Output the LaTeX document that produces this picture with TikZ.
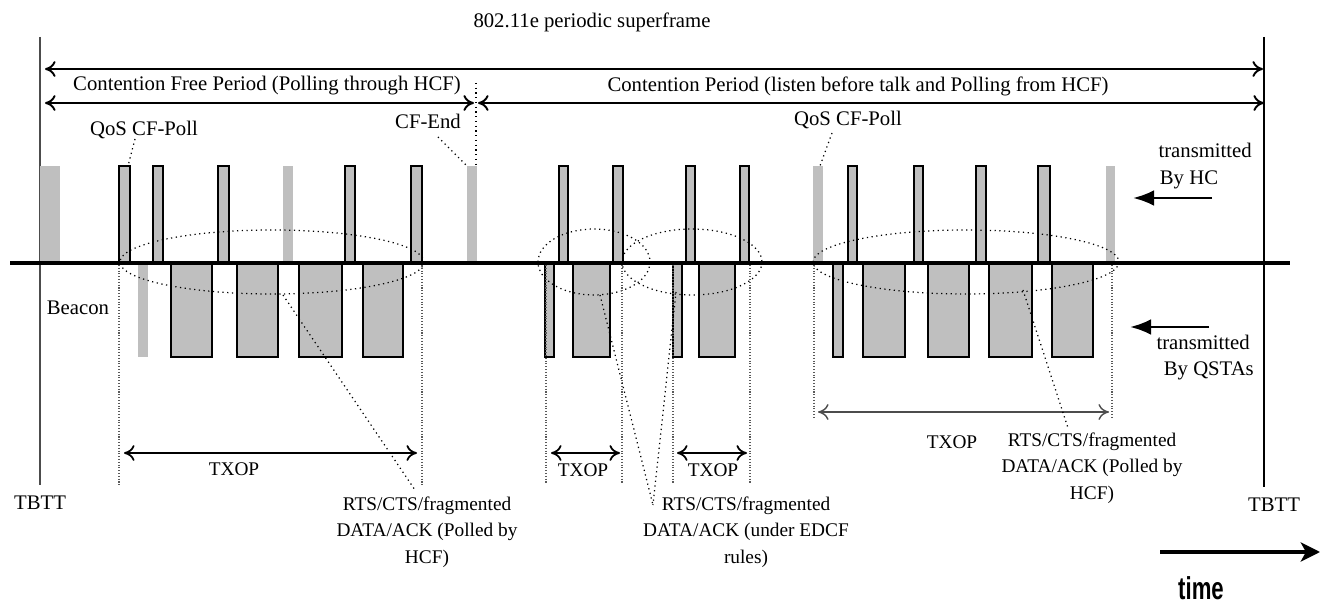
\documentclass[tikz,border=0pt]{standalone}
\usepackage{fontspec}
\setmainfont{Liberation Serif}
\setsansfont{Liberation Sans}
\usetikzlibrary{arrows.meta}

\begin{document}
\begin{tikzpicture}[x=0.02cm, y=-0.02cm, font=\fontsize{11.8}{13}\selectfont,
	hcbar/.style={draw, line width=0.9pt, fill=gray!50},
	plainbar/.style={fill=gray!50},
	leader/.style={dotted, line width=0.7pt},
	txbound/.style={densely dotted, line width=0.6pt, gray!70!black},
	span/.style={{To[length=6pt,width=9pt]}-{To[length=6pt,width=9pt]}, line width=1.1pt},
	small/.style={font=\fontsize{11}{15}\selectfont}]
	\useasboundingbox (0,0) rectangle (1330,604);
	
	% Title
	\node (title) at (592,22) {802.11e periodic superframe};
	
	% TBTT boundaries
	\node (tbttL) at (40,503) {TBTT};
	\node (tbttR) at (1274,505) {TBTT};
	\coordinate (topL) at (40,37);
	\coordinate (topR) at (1264,37);
	\draw[line width=1pt, gray!60!black] (topL) -- (40,485);
	\draw[line width=1.2pt] (topR) -- (1264,487);
	
	% Superframe and period spans
	\coordinate (sfL) at (45,69);
	\coordinate (sfR) at (1263,69);
	\draw[span] (sfL) -- (sfR);
	\coordinate (cfpL) at (45,103);
	\coordinate (cfpR) at (474,103);
	\coordinate (cpL) at (478,103);
	\coordinate (cpR) at (1264,103);
	\draw[span] (cfpL) -- (cfpR);
	\draw[span] (cpL) -- (cpR);
	\node (cfp) at (267,86) {Contention Free Period (Polling through HCF)};
	\node (cp) at (858,86) {Contention Period (listen before talk and Polling from HCF)};
	\draw[leader] (476,83) -- (476,262);
	
	% Frames sent by the HC
	\foreach \a/\b in {119/130,153/163,218/229,345/355,411/422,559/568,613/623,686/695,740/749,848/857,914/923,976/986,1038/1050}
		\draw[hcbar] (\a,263) rectangle (\b,166);
	\foreach \a/\b in {40/60,283/293,467/477,813/823,1106/1115}
		\fill[plainbar] (\a,263) rectangle (\b,166);
	
	% Frames sent by the QSTAs
	\foreach \a/\b in {171/212,237/278,299/342,363/403,545/554,573/610,673/682,699/735,833/843,863/905,928/969,989/1032,1052/1093}
		\draw[hcbar] (\a,263) rectangle (\b,357);
	\fill[plainbar] (138,263) rectangle (148,357);
	
	% Medium
	\draw[line width=1.8pt] (10,263) -- (1290,263);
	
	% TXOP groups
	\draw[leader] (272,262) ellipse [x radius=152, y radius=32];
	\draw[leader] (594,262) ellipse [x radius=56, y radius=33];
	\draw[leader] (692,262) ellipse [x radius=70, y radius=33];
	\draw[leader] (966,262) ellipse [x radius=153, y radius=32];
	
	% TXOP bounds
	\foreach \x/\y in {119/485,422/485,546/483,622/483,673/483,750/483,814/418,1112/418}
		\draw[txbound] (\x,265) -- (\x,\y);
	
	% TXOP spans
	\coordinate (tx1L) at (124,453); \coordinate (tx1R) at (417,453);
	\coordinate (tx2L) at (551,453); \coordinate (tx2R) at (620,453);
	\coordinate (tx3L) at (677,453); \coordinate (tx3R) at (747,453);
	\coordinate (tx4L) at (818,412); \coordinate (tx4R) at (1109,412);
	\draw[span, line width=1pt] (tx1L) -- (tx1R);
	\draw[span, line width=1pt] (tx2L) -- (tx2R);
	\draw[span, line width=1pt] (tx3L) -- (tx3R);
	\draw[span, line width=0.8pt, gray!60!black] (tx4L) -- (tx4R);
	\node[small] (txop1) at (234,469) {TXOP};
	\node[small] (txop2) at (583,470) {TXOP};
	\node[small] (txop3) at (713,470) {TXOP};
	\node[small] (txop4) at (952,442) {TXOP};
	
	% Frame labels
	\node (poll1) at (144,130) {QoS CF-Poll};
	\node (cfend) at (428,121) {CF-End};
	\node (poll2) at (848,120) {QoS CF-Poll};
	\node (beacon) at (78,308) {Beacon};
	\coordinate (poll1f) at (128,166);
	\coordinate (cfendf) at (467,166);
	\coordinate (poll2f) at (820,166);
	\draw[leader] (135,139) -- (poll1f);
	\draw[leader] (438,137) -- (cfendf);
	\draw[leader] (832,133) -- (poll2f);
	
	% Exchange labels
	\node[small, align=center] (rts1) at (427,532) {RTS/CTS/fragmented\\DATA/ACK (Polled by\\HCF)};
	\node[small, align=center] (rts2) at (746,532) {RTS/CTS/fragmented\\DATA/ACK (under EDCF\\rules)};
	\node[small, align=center] (rts3) at (1092,468) {RTS/CTS/fragmented\\DATA/ACK (Polled by\\HCF)};
	\coordinate (g1) at (283,295);
	\coordinate (g2) at (600,295);
	\coordinate (g3) at (676,292);
	\coordinate (g4) at (1023,290);
	\coordinate (rts1e) at (415,490);
	\coordinate (rts2e) at (653,505);
	\coordinate (rts3e) at (1068,428);
	\draw[leader] (g1) -- (rts1e);
	\draw[leader] (g2) -- (rts2e);
	\draw[leader] (g3) -- (rts2e);
	\draw[leader] (g4) -- (rts3e);
	
	% Direction of transmission
	\node[anchor=east] (hcA) at (1258,150) {transmitted};
	\node (hcB) at (1189,180) {By HC};
	\node[anchor=east] (qsA) at (1256,342) {transmitted};
	\node[anchor=east] (qsB) at (1260,371) {By QSTAs};
	\coordinate (hc0) at (1212,198); \coordinate (hc1) at (1133,198);
	\coordinate (qs0) at (1209,327); \coordinate (qs1) at (1130,327);
	\draw[line width=1.6pt, -{Latex[length=12pt,width=9pt]}] (hc0) -- (hc1);
	\draw[line width=1.6pt, -{Latex[length=12pt,width=9pt]}] (qs0) -- (qs1);
	
	% Time axis
	\coordinate (t0) at (1160,552);
	\coordinate (t1) at (1320,552);
	\draw[line width=1.8pt, -{Stealth[length=11pt,width=11pt,inset=3pt]}] (t0) -- (t1);
	\node (time) at (1201,588) {\sffamily\bfseries\fontsize{18}{18}\selectfont\scalebox{0.7}[1]{time}};
\end{tikzpicture}
\end{document}
